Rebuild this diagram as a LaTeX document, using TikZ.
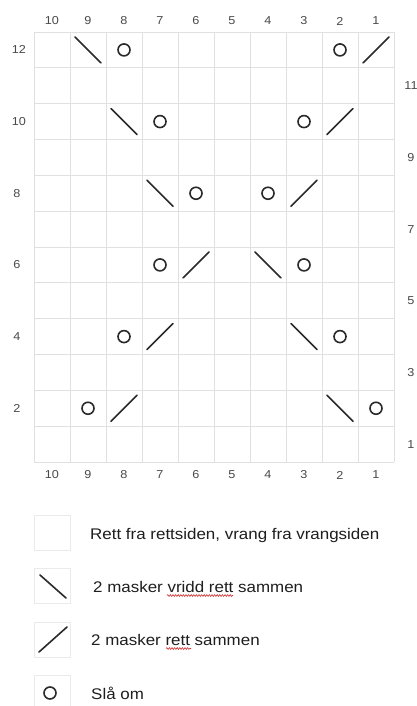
\documentclass[tikz,border=0pt]{standalone}
\usepackage{fontspec}
\setmainfont{Liberation Sans}
\newfontfamily\widefont[FakeStretch=1.1]{Liberation Sans}
\usetikzlibrary{decorations.pathmorphing}
\definecolor{gridgray}{HTML}{E0E0E0}
\definecolor{boxgray}{HTML}{EAEAEA}
\definecolor{symb}{HTML}{2A2A2A}
\definecolor{numgray}{HTML}{4A4A4A}
\definecolor{legtext}{HTML}{1E1E1E}
\definecolor{squig}{HTML}{D03030}
\tikzset{
  gridline/.style={draw=gridgray, line width=0.9pt},
  legbox/.style={draw=boxgray, line width=0.9pt},
  stitch/.style={draw=symb, line width=1.6pt, line cap=round},
  yarnover/.style={draw=symb, line width=1.6pt},
  numlabel/.style={inner sep=0pt, text=numgray, font=\widefont\fontsize{11.5}{13}\selectfont},
  legendtext/.style={inner sep=0pt, anchor=base west, text=legtext, font=\widefont\fontsize{15.4}{17}\selectfont},
  spell/.style={draw=squig, line width=0.6pt, decorate, decoration={snake, amplitude=0.9pt, segment length=2.6pt}}
}
\begin{document}
\begin{tikzpicture}[x=1pt,y=-1pt]
\useasboundingbox (0,0) rectangle (417,706);
\fill[white] (0,0) rectangle (417,706);
% grid
\foreach \i in {0,...,10} \draw[gridline] ({34+36*\i},32) -- ({34+36*\i},462);
\foreach \j in {0,...,12} \draw[gridline] (34,{32+35.8333*\j}) -- (394,{32+35.8333*\j});
% column numbers
\foreach \c in {1,...,10}{
  \pgfmathsetmacro\xx{34+(10-\c+0.5)*36}
  \node[numlabel] (top\c) at (\xx,21) {\c};
  \node[numlabel] (bot\c) at (\xx,475) {\c};
}
% row numbers
\foreach \r in {2,4,6,8}{
  \pgfmathsetmacro\yy{462-(\r-0.5)*35.8333}
  \node[numlabel] (row\r) at (17,\yy) {\r};
}
\foreach \r in {10,12}{
  \pgfmathsetmacro\yy{462-(\r-0.5)*35.8333}
  \node[numlabel] (row\r) at (19,\yy) {\r};
}
\foreach \r in {1,3,5,7,9,11}{
  \pgfmathsetmacro\yy{462-(\r-0.5)*35.8333}
  \node[numlabel] (row\r) at (411,\yy) {\r};
}
% backslash symbols
\foreach \c/\r in {9/12,8/10,7/8,4/6,3/4,2/2}{
  \pgfmathsetmacro\xx{34+(10-\c+0.5)*36}
  \pgfmathsetmacro\yy{462-(\r-0.5)*35.8333}
  \draw[stitch] ({\xx-13},{\yy-13}) -- ({\xx+13},{\yy+13});
}
% slash symbols
\foreach \c/\r in {1/12,2/10,3/8,6/6,7/4,8/2}{
  \pgfmathsetmacro\xx{34+(10-\c+0.5)*36}
  \pgfmathsetmacro\yy{462-(\r-0.5)*35.8333}
  \draw[stitch] ({\xx-13},{\yy+13}) -- ({\xx+13},{\yy-13});
}
% yarn overs
\foreach \c/\r in {8/12,2/12,7/10,3/10,6/8,4/8,7/6,3/6,8/4,2/4,9/2,1/2}{
  \pgfmathsetmacro\xx{34+(10-\c+0.5)*36}
  \pgfmathsetmacro\yy{462-(\r-0.5)*35.8333}
  \draw[yarnover] (\xx,\yy) circle (6);
}
% legend
\draw[legbox] (34,515) rectangle (70,550);
\draw[legbox] (34,568) rectangle (70,603);
\draw[stitch] (40,575) -- (66,598);
\draw[legbox] (34,622) rectangle (70,657);
\draw[stitch] (39,652) -- (67,627);
\draw[legbox] (34,675) rectangle (70,710);
\draw[yarnover] (50,693) circle (6);
\node[legendtext] (leg1) at (90,539) {Rett fra rettsiden, vrang fra vrangsiden};
\node[legendtext] (leg2) at (93,592) {2 masker vridd rett sammen};
\node[legendtext] (leg3) at (91,645) {2 masker rett sammen};
\node[legendtext] (leg4) at (91,699) {Slå om};
\draw[spell] (167,595.5) -- (233,595.5);
\draw[spell] (166,648.5) -- (191,648.5);
\end{tikzpicture}
\end{document}
